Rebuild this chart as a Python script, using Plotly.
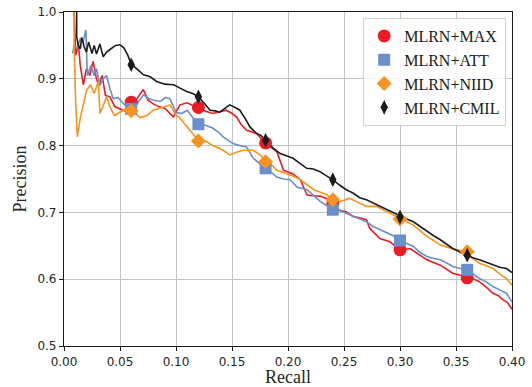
import plotly.graph_objects as go

# ---------------- data ----------------
max_recall = [0.009, 0.009, 0.0105, 0.0128, 0.0145, 0.0173, 0.020, 0.023, 0.026, 0.029, 0.031, 0.034, 0.037,
              0.041, 0.0455, 0.050, 0.054, 0.060, 0.065, 0.0708, 0.075, 0.080, 0.085, 0.090, 0.0976, 0.1036,
              0.110, 0.120, 0.127, 0.133, 0.139, 0.145, 0.150, 0.154, 0.158, 0.163, 0.172, 0.180, 0.185,
              0.190, 0.196, 0.204, 0.211, 0.217, 0.223, 0.229, 0.235, 0.240, 0.246, 0.252, 0.258, 0.264,
              0.270, 0.273, 0.278, 0.282, 0.291, 0.300, 0.309, 0.316, 0.324, 0.336, 0.347, 0.354, 0.360,
              0.366, 0.371, 0.377, 0.383, 0.388, 0.392, 0.396, 0.400]
max_prec = [1.02, 1.0, 0.935, 0.953, 0.92, 0.891, 0.915, 0.905, 0.926, 0.90, 0.89, 0.905, 0.875,
            0.873, 0.858, 0.855, 0.852, 0.865, 0.87, 0.884, 0.868, 0.862, 0.858, 0.856, 0.843, 0.861,
            0.864, 0.856, 0.851, 0.848, 0.851, 0.853, 0.848, 0.843, 0.832, 0.823, 0.818, 0.803, 0.797,
            0.791, 0.763, 0.758, 0.749, 0.726, 0.725, 0.724, 0.72, 0.712, 0.703, 0.701, 0.694, 0.692,
            0.689, 0.676, 0.668, 0.661, 0.656, 0.644, 0.646, 0.638, 0.629, 0.621, 0.609, 0.606, 0.602,
            0.600, 0.596, 0.588, 0.579, 0.575, 0.569, 0.565, 0.555]

att_recall = [0.0077, 0.009, 0.0115, 0.0145, 0.017, 0.0196, 0.0208, 0.024, 0.027, 0.029, 0.032, 0.035, 0.038,
              0.041, 0.044, 0.048, 0.052, 0.056, 0.060, 0.065, 0.071, 0.076, 0.080, 0.086, 0.091, 0.0946,
              0.100, 0.105, 0.110, 0.115, 0.120, 0.127, 0.133, 0.138, 0.142, 0.147, 0.151, 0.157, 0.163,
              0.169, 0.175, 0.180, 0.185, 0.190, 0.196, 0.202, 0.208, 0.213, 0.217, 0.223, 0.229, 0.235,
              0.240, 0.246, 0.252, 0.258, 0.264, 0.270, 0.276, 0.282, 0.288, 0.294, 0.300, 0.306, 0.312,
              0.318, 0.324, 0.330, 0.336, 0.342, 0.347, 0.354, 0.360, 0.366, 0.371, 0.377, 0.383, 0.389,
              0.395, 0.400]
att_prec = [0.938, 0.95, 0.945, 0.96, 0.955, 0.973, 0.905, 0.92, 0.905, 0.915, 0.89, 0.9, 0.905,
            0.885, 0.87, 0.872, 0.865, 0.858, 0.855, 0.862, 0.876, 0.87, 0.868, 0.866, 0.872, 0.87,
            0.85, 0.848, 0.853, 0.842, 0.833, 0.83, 0.826, 0.82, 0.813, 0.808, 0.803, 0.80, 0.798,
            0.781, 0.772, 0.766, 0.76, 0.753, 0.75, 0.749, 0.738, 0.736, 0.734, 0.725, 0.716, 0.71,
            0.704, 0.703, 0.699, 0.694, 0.69, 0.686, 0.679, 0.674, 0.669, 0.665, 0.658, 0.654, 0.649,
            0.64, 0.634, 0.631, 0.629, 0.624, 0.619, 0.616, 0.614, 0.607, 0.601, 0.596, 0.589, 0.584,
            0.579, 0.566]

niid_recall = [0.009, 0.009, 0.0105, 0.0119, 0.0146, 0.017, 0.0202, 0.0238, 0.027, 0.0307, 0.0321, 0.035, 0.038,
               0.041, 0.045, 0.050, 0.055, 0.060, 0.064, 0.068, 0.074, 0.0798, 0.085, 0.090, 0.0946, 0.100,
               0.1036, 0.110, 0.120, 0.127, 0.133, 0.142, 0.148, 0.154, 0.160, 0.169, 0.175, 0.181, 0.186,
               0.190, 0.199, 0.205, 0.211, 0.217, 0.223, 0.229, 0.235, 0.240, 0.246, 0.255, 0.262, 0.270,
               0.279, 0.288, 0.294, 0.300, 0.306, 0.312, 0.318, 0.324, 0.330, 0.336, 0.342, 0.348, 0.353,
               0.358, 0.364, 0.371, 0.377, 0.383, 0.389, 0.395, 0.400]
niid_prec = [1.02, 0.95, 0.862, 0.813, 0.842, 0.86, 0.883, 0.891, 0.878, 0.896, 0.848, 0.86, 0.873,
             0.858, 0.845, 0.85, 0.855, 0.852, 0.848, 0.842, 0.845, 0.853, 0.856, 0.858, 0.861, 0.846,
             0.841, 0.828, 0.808, 0.806, 0.80, 0.793, 0.786, 0.79, 0.793, 0.793, 0.786, 0.776, 0.77,
             0.763, 0.758, 0.754, 0.749, 0.742, 0.734, 0.73, 0.726, 0.72, 0.716, 0.721, 0.715, 0.709,
             0.709, 0.701, 0.696, 0.691, 0.686, 0.681, 0.673, 0.664, 0.658, 0.651, 0.648, 0.645, 0.643,
             0.641, 0.632, 0.624, 0.62, 0.616, 0.608, 0.601, 0.591]

cmil_recall = [0.0113, 0.0113, 0.0128, 0.0146, 0.0158, 0.018, 0.020, 0.022, 0.025, 0.027, 0.029, 0.032, 0.035,
               0.038, 0.042, 0.046, 0.050, 0.0536, 0.057, 0.060, 0.065, 0.071, 0.077, 0.0827, 0.090, 0.098,
               0.1036, 0.1096, 0.115, 0.120, 0.126, 0.1304, 0.135, 0.139, 0.144, 0.148, 0.154, 0.157, 0.162,
               0.166, 0.172, 0.176, 0.180, 0.187, 0.193, 0.199, 0.2045, 0.210, 0.2167, 0.2226, 0.2286, 0.234,
               0.240, 0.246, 0.252, 0.258, 0.264, 0.270, 0.276, 0.282, 0.288, 0.294, 0.300, 0.306, 0.312,
               0.318, 0.324, 0.330, 0.336, 0.342, 0.347, 0.353, 0.3595, 0.365, 0.371, 0.377, 0.383, 0.389,
               0.395, 0.400]
cmil_prec = [1.02, 0.963, 0.95, 0.945, 0.962, 0.948, 0.94, 0.955, 0.938, 0.95, 0.937, 0.952, 0.933,
             0.94, 0.945, 0.95, 0.951, 0.946, 0.935, 0.922, 0.915, 0.906, 0.903, 0.896, 0.892, 0.891,
             0.886, 0.881, 0.878, 0.873, 0.862, 0.853, 0.852, 0.85, 0.856, 0.861, 0.856, 0.853, 0.84,
             0.828, 0.818, 0.815, 0.808, 0.796, 0.788, 0.784, 0.781, 0.774, 0.766, 0.765, 0.761, 0.755,
             0.749, 0.741, 0.734, 0.729, 0.722, 0.719, 0.714, 0.71, 0.704, 0.699, 0.694, 0.69, 0.686,
             0.679, 0.671, 0.665, 0.659, 0.652, 0.646, 0.641, 0.636, 0.632, 0.629, 0.625, 0.621, 0.618,
             0.616, 0.61]

marker_recall = [0.06, 0.12, 0.18, 0.24, 0.30, 0.36]
max_marker_prec = [0.865, 0.857, 0.804, 0.713, 0.644, 0.602]
att_marker_prec = [0.855, 0.832, 0.766, 0.704, 0.658, 0.614]
niid_marker_prec = [0.852, 0.807, 0.776, 0.719, 0.690, 0.641]
cmil_marker_prec = [0.921, 0.873, 0.808, 0.749, 0.693, 0.636]

series_names = ["MLRN+MAX", "MLRN+ATT", "MLRN+NIID", "MLRN+CMIL"]
x_ticks = [0.0, 0.05, 0.10, 0.15, 0.20, 0.25, 0.30, 0.35, 0.40]
x_tick_labels = ["0.00", "0.05", "0.10", "0.15", "0.20", "0.25", "0.30", "0.35", "0.40"]
y_ticks = [0.5, 0.6, 0.7, 0.8, 0.9, 1.0]
y_tick_labels = ["0.5", "0.6", "0.7", "0.8", "0.9", "1.0"]

# ---------------- styles ----------------
colors = ["#ec1c24", "#6a8fcc", "#f7931e", "#1c1c1c"]
symbols = ["circle", "square", "diamond", "diamond-tall"]
msizes = [13, 12, 11.5, 10.5]

lines = [(max_recall, max_prec), (att_recall, att_prec), (niid_recall, niid_prec), (cmil_recall, cmil_prec)]
marks = [max_marker_prec, att_marker_prec, niid_marker_prec, cmil_marker_prec]

fig = go.Figure()
for (rx, py), c in zip(lines, colors):
    fig.add_trace(go.Scatter(x=rx, y=py, mode="lines", line=dict(color=c, width=1.6),
                             showlegend=False, hoverinfo="skip"))
for name, mp, c, s, ms in zip(series_names, marks, colors, symbols, msizes):
    fig.add_trace(go.Scatter(x=marker_recall, y=mp, mode="markers", name=name,
                             marker=dict(color=c, symbol=s, size=ms, line=dict(width=0))))

axis_common = dict(
    showline=True, linecolor="#1a1a1a", linewidth=1.2, mirror=True,
    ticks="outside", ticklen=4, tickwidth=1, tickcolor="#1a1a1a",
    showgrid=True, gridcolor="#c4c4c4", gridwidth=1, zeroline=False,
    tickfont=dict(family="DejaVu Sans", size=12, color="#262626"),
    automargin=False,
)

fig.update_xaxes(range=[0, 0.4], tickvals=x_ticks, ticktext=x_tick_labels,
                 title=dict(text="Recall", font=dict(family="Liberation Serif", size=18, color="#262626"),
                            standoff=2),
                 **axis_common)
fig.update_yaxes(range=[0.5, 1.0], tickvals=y_ticks, ticktext=y_tick_labels,
                 title=dict(text="Precision", font=dict(family="Liberation Serif", size=18, color="#262626"),
                            standoff=6),
                 **axis_common)

fig.update_layout(
    width=532, height=387,
    margin=dict(l=64, r=20, t=12, b=41),
    paper_bgcolor="white", plot_bgcolor="white",
    legend=dict(x=0.987, y=0.982, xanchor="right", yanchor="top",
                bgcolor="rgba(255,255,255,0.85)", bordercolor="#d0d0d0", borderwidth=1,
                font=dict(family="Liberation Serif", size=16, color="#1a1a1a"),
                itemsizing="trace", tracegroupgap=0),
)

fig.write_html("out.html")
